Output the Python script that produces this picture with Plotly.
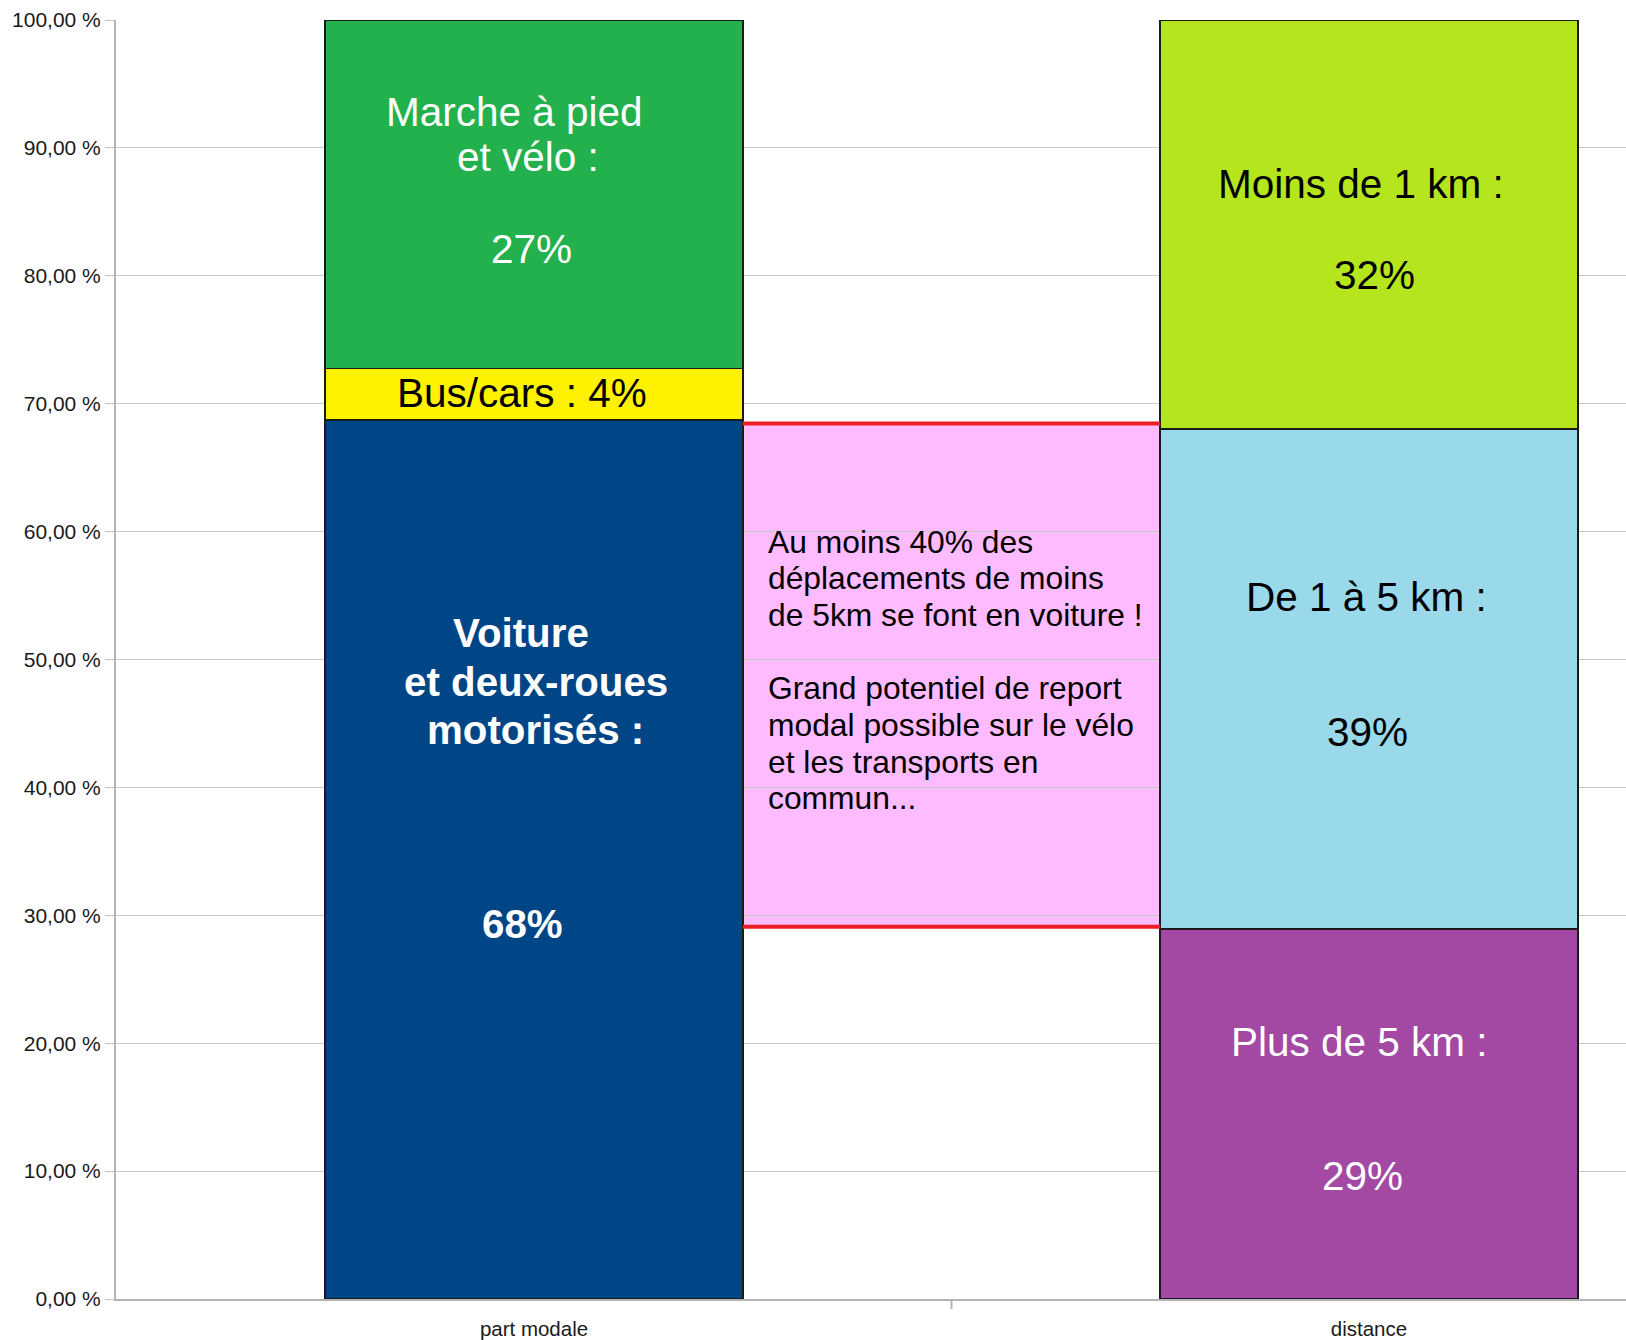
import plotly.graph_objects as go

# ---------------- data ----------------
categories = ["part modale", "distance"]
cat_pos = [0, 1]

modal_series = ["Voiture et deux-roues motorisés", "Bus/cars", "Marche à pied et vélo"]
modal_values = [68.7, 4.05, 27.25]

distance_series = ["Plus de 5 km", "De 1 à 5 km", "Moins de 1 km"]
distance_values = [28.95, 39.1, 31.95]

box_bounds = [29.1, 68.45]   # highlighted band between the two bars

y_tick_values = [0, 10, 20, 30, 40, 50, 60, 70, 80, 90, 100]
y_tick_labels = ["0,00 %", "10,00 %", "20,00 %", "30,00 %", "40,00 %", "50,00 %",
                 "60,00 %", "70,00 %", "80,00 %", "90,00 %", "100,00 %"]

modal_label_lines = [["Voiture", "et deux-roues", "motorisés :", "68%"],
                     ["Bus/cars : 4%"],
                     ["Marche à pied", "et vélo :", "27%"]]
distance_label_lines = [["Plus de 5 km :", "29%"],
                        ["De 1 à 5 km :", "39%"],
                        ["Moins de 1 km :", "32%"]]
note_lines = ["Au moins 40% des", "déplacements de moins", "de 5km se font en voiture !", "",
              "Grand potentiel de report", "modal possible sur le vélo",
              "et les transports en", "commun..."]

# ---------------- styles ----------------
FONT = "Liberation Sans, Arial, sans-serif"
modal_colors = ["#004586", "#fff200", "#22b14c"]
distance_colors = ["#a349a4", "#99d9ea", "#b5e61d"]
modal_text_colors = ["white", "black", "white"]
distance_text_colors = ["white", "black", "black"]
modal_bold = [True, False, False]
BIG = 40.5
BIG_BOLD = 40.3
NOTE = 31.8
# label line positions (x in category units, y in %)
modal_label_pos = [[(-0.0156, 52.07), (0.0018, 48.21), (0.0012, 44.42), (-0.0137, 29.27)],
                   [(-0.0144, 70.80)],
                   [(-0.0231, 92.82), (-0.0072, 89.26), (-0.0028, 82.12)]]
distance_label_pos = [[(0.9881, 20.12), (0.9923, 9.58)],
                      [(0.9974, 54.86), (0.9983, 44.32)],
                      [(0.9903, 87.16), (1.0061, 80.09)]]
note_x = 0.2782
note_y_px = [542.5, 579.2, 615.9, 652.6, 689.3, 726.0, 762.7, 799.4]

W, H = 1626, 1340
ML, MR, MT, MB = 116, 0, 20, 39
plot_h = H - MT - MB

fig = go.Figure()

for name, val, col in zip(modal_series, modal_values, modal_colors):
    fig.add_trace(go.Bar(x=[cat_pos[0]], y=[val], name=name, width=0.5,
                         marker=dict(color=col, line=dict(color="#1a1a1a", width=1.8)),
                         hoverinfo="name+y"))
for name, val, col in zip(distance_series, distance_values, distance_colors):
    fig.add_trace(go.Bar(x=[cat_pos[1]], y=[val], name=name, width=0.5,
                         marker=dict(color=col, line=dict(color="#1a1a1a", width=1.8)),
                         hoverinfo="name+y"))

annotations = []
for lines, poss, tc, bold in zip(modal_label_lines, modal_label_pos, modal_text_colors, modal_bold):
    for t, (x, y) in zip(lines, poss):
        annotations.append(dict(x=x, y=y, xref="x", yref="y", showarrow=False,
                                text=f"<b>{t}</b>" if bold else t,
                                xanchor="center", yanchor="middle",
                                font=dict(family=FONT, size=BIG_BOLD if bold else BIG, color=tc)))
for lines, poss, tc in zip(distance_label_lines, distance_label_pos, distance_text_colors):
    for t, (x, y) in zip(lines, poss):
        annotations.append(dict(x=x, y=y, xref="x", yref="y", showarrow=False, text=t,
                                xanchor="center", yanchor="middle",
                                font=dict(family=FONT, size=BIG, color=tc)))
for t, py in zip(note_lines, note_y_px):
    if not t:
        continue
    annotations.append(dict(x=note_x, y=(H - MB - py) / plot_h * 100, xref="x", yref="y",
                            showarrow=False, text=t, xanchor="left", yanchor="middle",
                            font=dict(family=FONT, size=NOTE, color="black")))

shapes = [
    dict(type="rect", xref="x", yref="y", x0=0.25, x1=0.75, y0=box_bounds[0], y1=box_bounds[1],
         fillcolor="#ffbbff", line=dict(width=0), layer="below"),
    dict(type="line", xref="x", yref="y", x0=0.25, x1=0.75, y0=box_bounds[1], y1=box_bounds[1],
         line=dict(color="#ed1c24", width=4), layer="above"),
    dict(type="line", xref="x", yref="y", x0=0.25, x1=0.75, y0=box_bounds[0], y1=box_bounds[0],
         line=dict(color="#ed1c24", width=4), layer="above"),
    dict(type="line", xref="x", yref="paper", x0=0.5, x1=0.5, y0=0, y1=-10 / plot_h,
         line=dict(color="#b3b3b3", width=2)),
]

fig.update_layout(
    width=W, height=H, barmode="stack", showlegend=False,
    paper_bgcolor="white", plot_bgcolor="rgba(0,0,0,0)",
    margin=dict(l=ML, r=MR, t=MT, b=MB, pad=0),
    font=dict(family=FONT, color="#1a1a1a"),
    annotations=annotations, shapes=shapes,
    xaxis=dict(range=[-0.5006, 1.3078], tickmode="array", tickvals=cat_pos, ticktext=categories,
               ticks="outside", ticklen=10, tickcolor="rgba(0,0,0,0)",
               tickfont=dict(family=FONT, size=20.5, color="#1a1a1a"),
               showgrid=False, zeroline=False, showline=True, linecolor="#b3b3b3", linewidth=2),
    yaxis=dict(range=[0, 100], tickmode="array", tickvals=y_tick_values, ticktext=y_tick_labels,
               ticks="outside", ticklen=9, tickcolor="#c0c0c0", tickwidth=1.3,
               tickfont=dict(family=FONT, size=21, color="#1a1a1a"),
               showgrid=True, gridcolor="#c8c8c8", gridwidth=1.3, zeroline=False,
               showline=True, linecolor="#b3b3b3", linewidth=2),
)

fig.write_html("out.html", config={"displayModeBar": False},
               post_script="document.body.style.margin='0';document.body.style.overflow='hidden';")
